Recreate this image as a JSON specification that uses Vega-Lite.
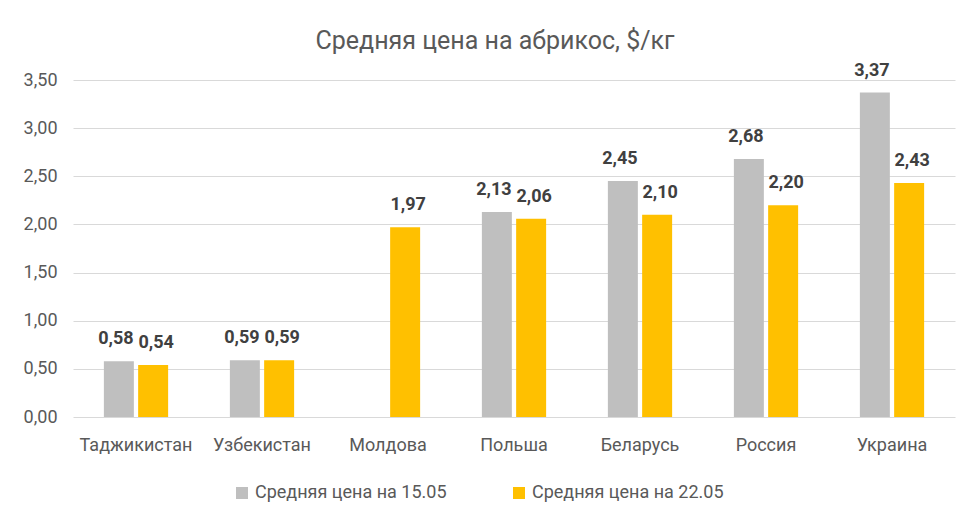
{
  "$schema": "https://vega.github.io/schema/vega-lite/v6.json",
  "autosize": "none",
  "width": 882,
  "height": 337,
  "padding": {"left": 73, "top": 80, "right": 21, "bottom": 109},
  "background": "white",
  "config": {
    "font": "Roboto, sans-serif",
    "view": {"stroke": null},
    "locale": {"number": {"decimal": ",", "thousands": " ", "grouping": [3], "currency": ["", " $"]}}
  },
  "title": {
    "text": "Средняя цена на абрикос, $/кг",
    "fontSize": 25,
    "fontWeight": "normal",
    "color": "#595959",
    "anchor": "middle",
    "dx": -19,
    "offset": 8
  },
  "data": {
    "values": [
      {"country": "Таджикистан", "series": "Средняя цена на 15.05", "price": 0.58},
      {"country": "Таджикистан", "series": "Средняя цена на 22.05", "price": 0.54},
      {"country": "Узбекистан", "series": "Средняя цена на 15.05", "price": 0.59},
      {"country": "Узбекистан", "series": "Средняя цена на 22.05", "price": 0.59},
      {"country": "Молдова", "series": "Средняя цена на 15.05", "price": null},
      {"country": "Молдова", "series": "Средняя цена на 22.05", "price": 1.97},
      {"country": "Польша", "series": "Средняя цена на 15.05", "price": 2.13},
      {"country": "Польша", "series": "Средняя цена на 22.05", "price": 2.06},
      {"country": "Беларусь", "series": "Средняя цена на 15.05", "price": 2.45},
      {"country": "Беларусь", "series": "Средняя цена на 22.05", "price": 2.10},
      {"country": "Россия", "series": "Средняя цена на 15.05", "price": 2.68},
      {"country": "Россия", "series": "Средняя цена на 22.05", "price": 2.20},
      {"country": "Украина", "series": "Средняя цена на 15.05", "price": 3.37},
      {"country": "Украина", "series": "Средняя цена на 22.05", "price": 2.43}
    ]
  },
  "encoding": {
    "x": {
      "field": "country", "type": "nominal", "sort": null, "title": null,
      "scale": {"paddingInner": 0.49, "paddingOuter": 0.245},
      "axis": {"labelAngle": 0, "labelFontSize": 18, "labelColor": "#595959", "domain": false, "ticks": false, "labelPadding": 19, "labelLimit": 0}
    },
    "xOffset": {
      "field": "series", "type": "nominal",
      "scale": {"paddingInner": 0.125}
    },
    "y": {
      "field": "price", "type": "quantitative", "title": null,
      "scale": {"domain": [0, 3.5]},
      "axis": {"values": [0, 0.5, 1, 1.5, 2, 2.5, 3, 3.5], "format": ".2f", "labelFontSize": 18, "labelColor": "#595959", "domain": false, "ticks": false, "labelPadding": 16, "gridColor": "#D9D9D9", "gridWidth": 1}
    }
  },
  "layer": [
    {
      "mark": {"type": "bar"},
      "encoding": {
        "color": {
          "field": "series", "type": "nominal", "title": null,
          "scale": {"range": ["#BFBFBF", "#FFC000"]},
          "legend": {
            "orient": "none", "legendX": 160, "legendY": 404, "direction": "horizontal",
            "symbolType": "square", "symbolSize": 144, "symbolStrokeWidth": 0,
            "labelFontSize": 18, "labelColor": "#595959", "columnPadding": 63, "labelOffset": 4, "labelLimit": 0
          }
        }
      }
    },
    {
      "transform": [{"filter": "datum.series === 'Средняя цена на 15.05'"}],
      "mark": {"type": "text", "baseline": "alphabetic", "dy": -17, "dx": -3, "fontSize": 18, "fontWeight": "bold", "color": "#404040"},
      "encoding": {
        "text": {"field": "price", "type": "quantitative", "format": ".2f"}
      }
    },
    {
      "transform": [{"filter": "datum.series === 'Средняя цена на 22.05'"}],
      "mark": {"type": "text", "baseline": "alphabetic", "dy": -17, "dx": 3, "fontSize": 18, "fontWeight": "bold", "color": "#404040"},
      "encoding": {
        "text": {"field": "price", "type": "quantitative", "format": ".2f"}
      }
    }
  ]
}
